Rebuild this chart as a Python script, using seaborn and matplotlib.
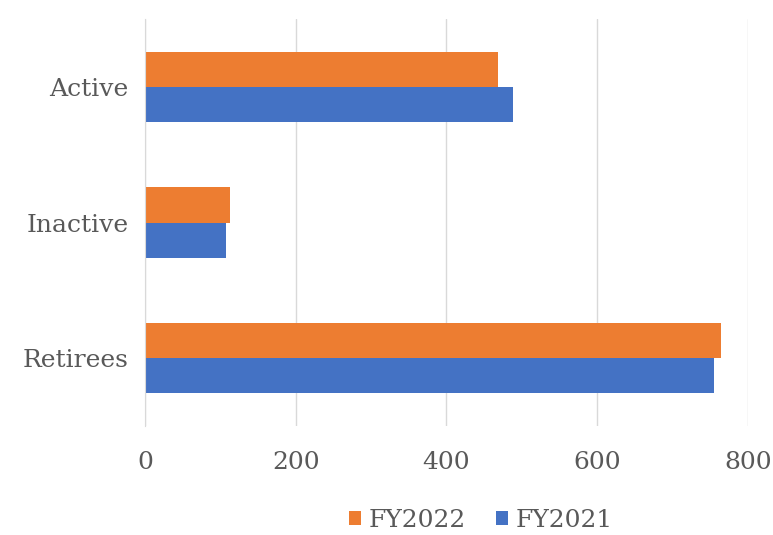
import pandas as pd
import matplotlib.pyplot as plt
import seaborn as sns

# Values
categories = ['Active', 'Inactive', 'Retirees']
fy2022 = [469, 113, 764]
fy2021 = [488, 107, 755]
series_names = ['FY2022', 'FY2021']
x_ticks = [0, 200, 400, 600, 800]

colors = {'FY2022': '#ED7D31', 'FY2021': '#4472C4'}


def build_frame():
    rows = []
    for name, values in zip(series_names, [fy2022, fy2021]):
        for cat, v in zip(categories, values):
            rows.append({'Category': cat, 'Year': name, 'Value': v})
    return pd.DataFrame(rows)


def draw(df):
    sns.set_style('white')
    plt.rcParams['font.family'] = ['DejaVu Serif', 'Liberation Serif']
    fig = plt.figure(figsize=(7.73, 5.35), dpi=100)
    ax = fig.add_axes([0.1876, 0.2037, 0.78, 0.7608])

    sns.barplot(data=df, y='Category', x='Value', hue='Year', order=categories,
                hue_order=series_names, palette=colors, orient='h',
                width=0.52, saturation=1, linewidth=0, ax=ax, legend=True)

    ax.set_xlim(0, 800)
    ax.set_xticks(x_ticks)
    ax.set_xticklabels([str(t) for t in x_ticks])
    ax.xaxis.grid(True, color='#d9d9d9', linewidth=1)
    ax.set_axisbelow(True)
    for s in ['top', 'right', 'bottom']:
        ax.spines[s].set_visible(False)
    ax.spines['left'].set_color('#d9d9d9')
    ax.set_xlabel('')
    ax.set_ylabel('')
    ax.tick_params(axis='both', length=0, labelsize=18, colors='#595959')
    ax.tick_params(axis='x', pad=18)
    ax.tick_params(axis='y', pad=12)

    handles, labels = ax.get_legend_handles_labels()
    ax.legend(handles, labels, loc='upper center', bbox_to_anchor=(0.557, -0.192),
              ncol=2, frameon=False, fontsize=18, handlelength=0.5,
              handleheight=0.5, handletextpad=0.3, columnspacing=1.2,
              labelcolor='#595959', borderaxespad=0, borderpad=0.2)

    fig.savefig('out.png', dpi=100)


def main():
    df = build_frame()
    draw(df)


if __name__ == '__main__':
    main()
